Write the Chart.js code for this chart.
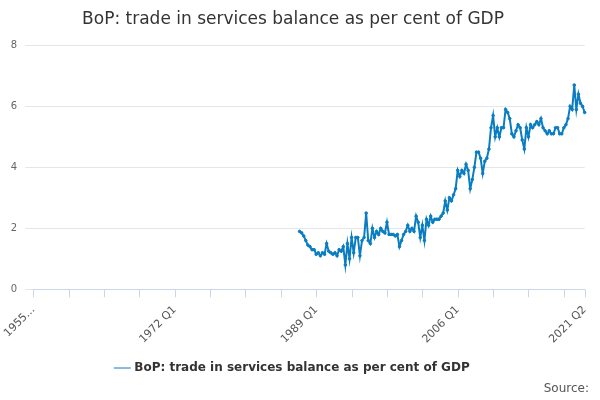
<!DOCTYPE html>
<html>
<head>
<meta charset="utf-8">
<script src="https://cdn.jsdelivr.net/npm/chart.js@4/dist/chart.umd.min.js"></script>
<style>
  body { margin: 0; background: #fff; }
  #wrap { width: 600px; height: 400px; }
</style>
</head>
<body>
<div id="wrap"><canvas id="chart"></canvas></div>
<script>
const firstYear = 1955;
const lastYear = 2021;
const lastQuarter = 2;

// values start at 1987 Q1, one per quarter
const dataStart = "1987 Q1";
const balance = [
    1.9, 1.85, 1.75, 1.6,
    1.45, 1.4, 1.3, 1.3,
    1.15, 1.2, 1.1, 1.2,
    1.15, 1.5, 1.25, 1.2,
    1.15, 1.2, 1.1, 1.3,
    1.25, 1.4, 0.8, 1.5,
    1.0, 1.7, 1.2, 1.7,
    1.7, 1.1, 1.6, 1.7,
    2.5, 1.6, 1.5, 2.0,
    1.7, 1.9, 1.8, 2.0,
    1.9, 1.85, 2.2, 1.8,
    1.8, 1.8, 1.75, 1.8,
    1.4, 1.6, 1.8, 1.9,
    2.1, 1.9, 2.0, 1.9,
    2.4, 2.2, 1.7, 2.1,
    1.6, 2.3, 2.1, 2.4,
    2.2, 2.3, 2.3, 2.3,
    2.4, 2.5, 2.9, 2.6,
    3.0, 2.9, 3.1, 3.3,
    3.9, 3.7, 3.9, 3.8,
    4.1, 3.9, 3.3, 3.6,
    4.0, 4.5, 4.5, 4.3,
    3.8, 4.2, 4.3, 4.6,
    5.3, 5.7, 5.0, 5.3,
    5.0, 5.3, 5.3, 5.9,
    5.8, 5.6, 5.1, 5.0,
    5.2, 5.4, 5.3, 4.9,
    4.6, 5.3, 5.0, 5.4,
    5.3, 5.4, 5.5, 5.4,
    5.6, 5.3, 5.2, 5.1,
    5.2, 5.1, 5.1, 5.3,
    5.3, 5.1, 5.1, 5.3,
    5.4, 5.6, 6.0, 5.9,
    6.7, 5.9, 6.4, 6.1,
    6.0, 5.8
];
const yTicks = [0, 2, 4, 6, 8];

const labels = [];
for (let y = firstYear; y <= lastYear; y++) {
    for (let q = 1; q <= 4; q++) {
        if (y === lastYear && q > lastQuarter) break;
        labels.push(`${y} Q${q}`);
    }
}
const offset = labels.indexOf(dataStart);
const series = labels.map((_, i) => (i >= offset && i - offset < balance.length) ? balance[i - offset] : null);
const lastIndex = labels.length - 1;

const font = "'DejaVu Sans', sans-serif";

// small tick marks under the x axis every 17 quarters, plus "Source:" text
const extras = {
    id: "extras",
    afterDraw(chart) {
        const c = chart.ctx;
        const x = chart.scales.x;
        const yBase = chart.chartArea.bottom;
        c.save();
        c.strokeStyle = "#ccd6eb";
        c.lineWidth = 1;
        for (let i = 0; i <= lastIndex; i++) {
            if (i % 17 !== 0 && i !== lastIndex) continue;
            const px = Math.round(x.getPixelForValue(i)) + 0.5;
            c.beginPath();
            c.moveTo(px, yBase);
            c.lineTo(px, yBase + 8);
            c.stroke();
        }
        c.fillStyle = "#555";
        c.font = "12px " + font;
        c.textAlign = "right";
        c.textBaseline = "middle";
        c.fillText("Source:", 589, 389);
        c.restore();
    }
};

new Chart(document.getElementById("chart"), {
    type: "line",
    data: {
        labels: labels,
        datasets: [{
            label: "BoP: trade in services balance as per cent of GDP",
            data: series,
            borderColor: "#0a7dc2",
            backgroundColor: "#0a7dc2",
            borderWidth: 2,
            pointRadius: 1.3,
            pointBorderWidth: 1,
            pointHoverRadius: 3,
            tension: 0,
            spanGaps: false
        }]
    },
    options: {
        responsive: true,
        maintainAspectRatio: false,
        animation: false,
        layout: { padding: { left: 0, right: 14, top: 0, bottom: 16 } },
        scales: {
            x: {
                grid: { display: false },
                border: { color: "#ccd6eb" },
                ticks: {
                    autoSkip: false,
                    maxRotation: 45,
                    minRotation: 45,
                    padding: 6,
                    color: "#555",
                    font: { family: font, size: 11 },
                    callback: function (v, i) {
                        if (i === 0) return "1955...";
                        if (i % 68 === 0 || i === lastIndex) return labels[i];
                        return null;
                    }
                }
            },
            y: {
                min: 0,
                max: 8,
                afterBuildTicks: (axis) => { axis.ticks = yTicks.map(v => ({ value: v })); },
                grid: { color: "#e6e6e6" },
                border: { display: false },
                ticks: { color: "#666", font: { family: font, size: 10 }, padding: 8 }
            }
        },
        plugins: {
            title: {
                display: true,
                text: "BoP: trade in services balance as per cent of GDP",
                color: "#333",
                font: { family: font, size: 17, weight: "normal" },
                padding: { top: 9, bottom: 16 }
            },
            legend: {
                position: "bottom",
                labels: {
                    color: "#333",
                    font: { family: font, size: 12, weight: "bold" },
                    usePointStyle: true,
                    pointStyle: "line",
                    boxWidth: 18,
                    padding: 10
                }
            },
            tooltip: { enabled: false }
        }
    },
    plugins: [extras]
});
</script>
</body>
</html>
